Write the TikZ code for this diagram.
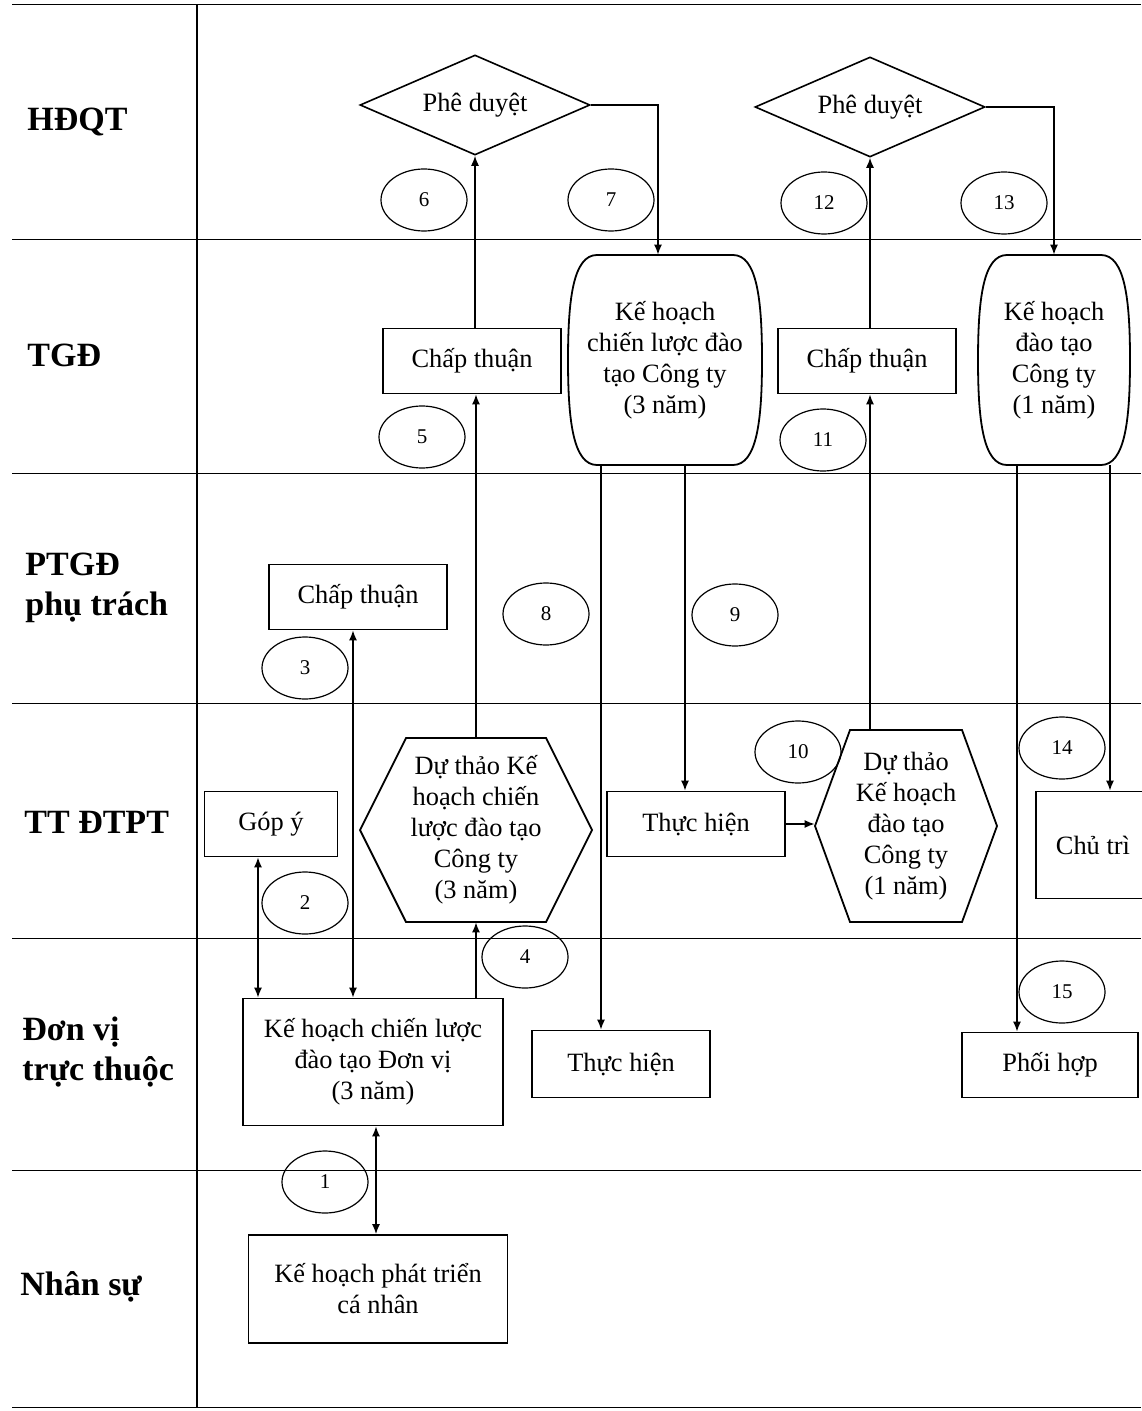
\documentclass[tikz,border=0pt]{standalone}
\usepackage{fontspec}
\setmainfont{Liberation Serif}
\usetikzlibrary{shapes.geometric,arrows.meta}
\tikzset{
  flow/.style={x=0.5pt,y=-0.5pt,font=\fontsize{13.2}{15.5}\selectfont},
  lane/.style={line width=0.5pt},
  lanename/.style={anchor=west,align=left,inner sep=0pt,font=\fontsize{17}{20}\selectfont\bfseries},
  stepbox/.style={draw,line width=0.9pt,align=center,minimum width=89pt,minimum height=32.5pt,inner sep=2pt},
  approve/.style={draw,diamond,aspect=2.3,line width=0.8pt,minimum width=115pt,minimum height=50pt,inner sep=0pt},
  num/.style={draw,ellipse,line width=0.6pt,minimum width=43pt,minimum height=31pt,inner sep=0pt,font=\fontsize{10.5}{12}\selectfont},
  shell/.style={align=center,inner sep=0pt},
  outline/.style={line width=0.9pt},
  arr/.style={line width=0.7pt,-{Latex[length=5pt,width=4pt]}},
  twoway/.style={line width=0.7pt,{Latex[length=5pt,width=4pt]}-{Latex[length=5pt,width=4pt]}},
}

\begin{document}
\begin{tikzpicture}[flow]
  \useasboundingbox (0,0) rectangle (1141,1411);
  % swim lanes
  \foreach \y in {5,240,473,703,938,1170,1407} \draw[lane] (12,\y) -- (1141,\y);
  \draw[line width=0.8pt] (197,5) -- (197,1407);
  \node[lanename] (labHDQT) at (27,122) {HĐQT};
  \node[lanename] (labTGD)  at (27,355) {TGĐ};
  \node[lanename] (labPTGD) at (25,588) {PTGĐ\\phụ trách};
  \node[lanename] (labTT)   at (24,822) {TT ĐTPT};
  \node[lanename] (labDV)   at (22,1052) {Đơn vị\\trực thuộc};
  \node[lanename] (labNS)   at (20,1287) {Nhân sự};

  % steps
  \node[approve] (okA) at (475,105) {Phê duyệt};
  \node[approve] (okB) at (870,107) {Phê duyệt};
  \node[stepbox] (okTGD1) at (472,361) {Chấp thuận};
  \node[stepbox] (okTGD2) at (867,361) {Chấp thuận};
  \node[stepbox] (okPT) at (358,597) {Chấp thuận};
  \node[stepbox,minimum width=66.5pt] (gopy) at (271,824) {Góp ý};
  \node[stepbox] (doTT) at (696,824) {Thực hiện};
  \node[stepbox,anchor=west,minimum height=53.5pt,inner xsep=10pt] (lead) at (1035,845) {Chủ trì\hspace*{60pt}};
  \node[stepbox,minimum width=130pt,minimum height=63.5pt] (unitplan) at (373,1062) {Kế hoạch chiến lược\\đào tạo Đơn vị\\(3 năm)};
  \node[stepbox,minimum height=33.5pt] (doDV) at (621,1064) {Thực hiện};
  \node[stepbox,minimum width=88pt] (coop) at (1050,1065) {Phối hợp};
  \node[stepbox,minimum width=129.5pt,minimum height=54pt] (ipd) at (378,1289) {Kế hoạch phát triển\\cá nhân};

  % plans and drafts
  \node[shell,minimum width=97pt,minimum height=105pt] (planA) at (665,360) {Kế hoạch\\chiến lược đào\\tạo Công ty\\(3 năm)};
  \node[shell,minimum width=76pt,minimum height=105pt] (planB) at (1054,360) {Kế hoạch\\đào tạo\\Công ty\\(1 năm)};
  \foreach \n/\w in {planA/97,planB/76}
    \draw[outline,shift={(\n.center)}] (-\w+29,-105) -- (\w-29,-105)
      .. controls (\w-5,-105) and (\w,-60) .. (\w,0)
      .. controls (\w,60) and (\w-5,105) .. (\w-29,105) -- (-\w+29,105)
      .. controls (-\w+5,105) and (-\w,60) .. (-\w,0)
      .. controls (-\w,-60) and (-\w+5,-105) .. cycle;
  \node[shell,minimum width=116pt,minimum height=92pt] (hexA) at (476,830) {Dự thảo Kế\\hoạch chiến\\lược đào tạo\\Công ty\\(3 năm)};
  \node[shell,minimum width=91pt,minimum height=96pt] (hexB) at (906,826) {Dự thảo\\Kế hoạch\\đào tạo\\Công ty\\(1 năm)};
  \foreach \n/\w/\h/\c in {hexA/116/92/46,hexB/91/96/35}
    \draw[outline,shift={(\n.center)}] (-\w,0) -- (-\w+\c,-\h) -- (\w-\c,-\h) -- (\w,0) -- (\w-\c,\h) -- (-\w+\c,\h) -- cycle;

  % step numbers
  \foreach \k/\p in {1/{(325,1182)},2/{(305,903)},3/{(305,668)},4/{(525,957)},5/{(422,437)},
                     6/{(424,200)},7/{(611,200)},8/{(546,614)},9/{(735,615)},10/{(798,752)},
                     11/{(823,440)},12/{(824,203)},13/{(1004,203)},14/{(1062,748)},15/{(1062,992)}}
    \node[num] (n\k) at \p {\k};

  % connectors
  \draw[twoway] ([xshift=1.5pt]unitplan.south) -- ([xshift=1.5pt]unitplan.south |- ipd.north);
  \draw[twoway] ([xshift=-6.5pt]gopy.south) -- ([xshift=-6.5pt]gopy.south |- unitplan.north);
  \draw[twoway] ([xshift=-2.5pt]okPT.south) -- ([xshift=-2.5pt]okPT.south |- unitplan.north);
  \draw[arr] (hexA.south |- unitplan.north) -- (hexA.south);
  \draw[arr] (hexA.north) -- (hexA.north |- okTGD1.south);
  \draw[arr] (okA.south |- okTGD1.north) -- (okA.south);
  \draw[arr] (okA.east) -| ([xshift=-3.5pt]planA.north);
  \draw[arr] ([xshift=-32pt]planA.south) -- ([xshift=-32pt]planA.south |- doDV.north);
  \draw[arr] ([xshift=10pt]planA.south) -- ([xshift=10pt]planA.south |- doTT.north);
  \draw[arr] (doTT.east) -- (doTT.east -| hexB.west);
  \draw[arr] ([xshift=-18pt]hexB.north) -- ([xshift=-18pt]hexB.north |- okTGD2.south);
  \draw[arr] (okB.south |- okTGD2.north) -- (okB.south);
  \draw[arr] (okB.east) -| (planB.north);
  \draw[arr] ([xshift=28pt]planB.south) -- ([xshift=28pt]planB.south |- lead.north);
  \draw[arr] ([xshift=-18.5pt]planB.south) -- ([xshift=-18.5pt]planB.south |- coop.north);
\end{tikzpicture}
\end{document}
